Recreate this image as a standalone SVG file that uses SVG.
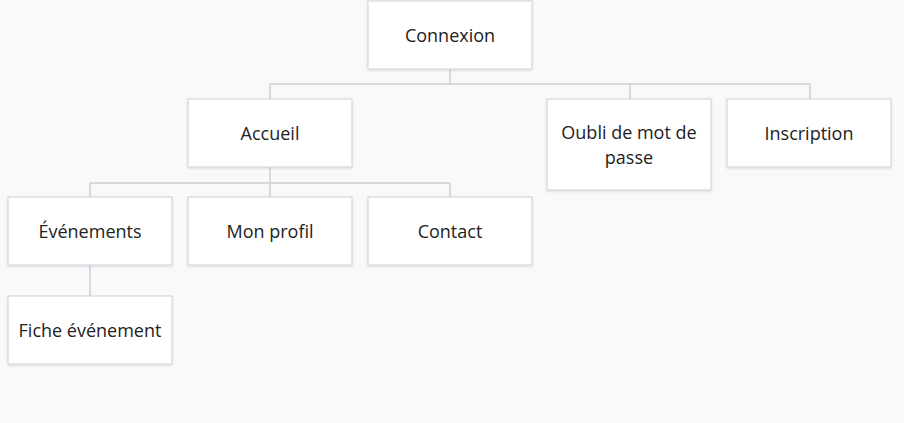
<svg xmlns="http://www.w3.org/2000/svg" width="904" height="423" viewBox="0 0 904 423">
<defs>
<style>
.box{fill:#ffffff;stroke:#d6d7da;stroke-width:1.2}
.lbl{font-family:"Open Sans","Noto Sans",sans-serif;font-size:18px;fill:#222222;text-anchor:middle;dominant-baseline:central}
.ln{fill:none;stroke:#cfd0d4;stroke-width:1.5}
</style>
<filter id="sh" x="-10%" y="-10%" width="120%" height="130%">
<feDropShadow dx="0" dy="1" stdDeviation="1.2" flood-color="#000" flood-opacity="0.12"/>
</filter>
</defs>
<rect width="904" height="423" fill="#f8f9fb"/>
<g id="connectors">
<path class="ln" d="M450 69V84M270 84H810M270 84V99M630 84V99M810 84V99"/>
<path class="ln" d="M270 167V183M90 183H450M90 183V197M270 183V197M450 183V197"/>
<path class="ln" d="M90 265V296"/>
</g>
<g id="connexion"><rect class="box" filter="url(#sh)" x="368" y="1" width="164" height="68"/><text class="lbl" x="450" y="35">Connexion</text></g>
<g id="accueil"><rect class="box" filter="url(#sh)" x="188" y="99" width="164" height="68"/><text class="lbl" x="270" y="133">Accueil</text></g>
<g id="oubli"><rect class="box" filter="url(#sh)" x="547" y="99" width="164" height="91"/><text class="lbl" x="629" y="132">Oubli de mot de</text><text class="lbl" x="629" y="157">passe</text></g>
<g id="inscription"><rect class="box" filter="url(#sh)" x="727" y="99" width="164" height="68"/><text class="lbl" x="809" y="133">Inscription</text></g>
<g id="evenements"><rect class="box" filter="url(#sh)" x="8" y="197" width="164" height="68"/><text class="lbl" x="90" y="231">Événements</text></g>
<g id="monprofil"><rect class="box" filter="url(#sh)" x="188" y="197" width="164" height="68"/><text class="lbl" x="270" y="231">Mon profil</text></g>
<g id="contact"><rect class="box" filter="url(#sh)" x="368" y="197" width="164" height="68"/><text class="lbl" x="450" y="231">Contact</text></g>
<g id="fiche"><rect class="box" filter="url(#sh)" x="8" y="296" width="164" height="68"/><text class="lbl" x="90" y="330">Fiche événement</text></g>
</svg>
